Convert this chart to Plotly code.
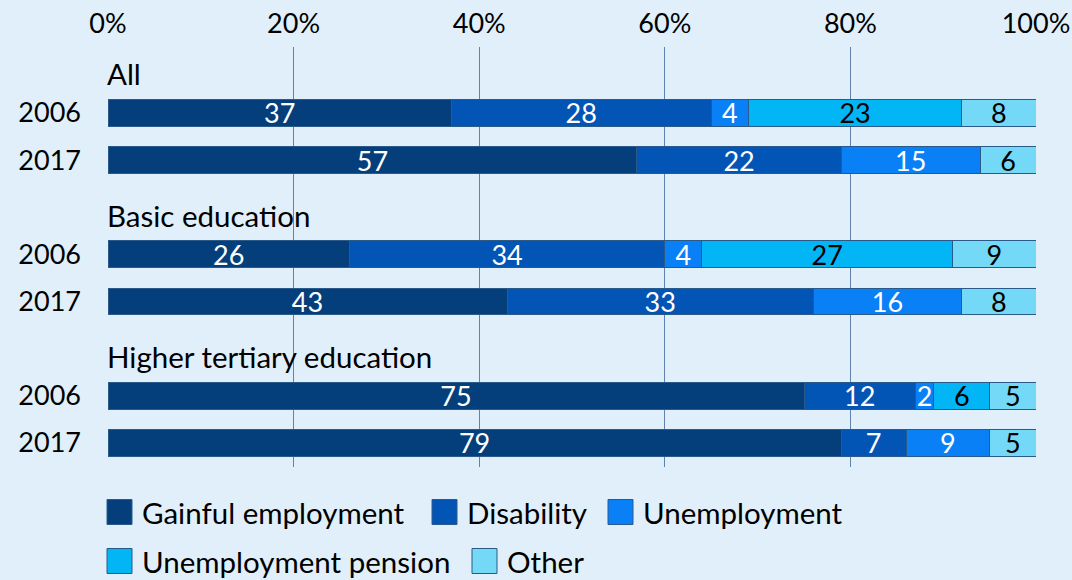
import plotly.graph_objects as go

# Shares of 60-64 year-olds by main activity, per education group and year (%)
groups = ["All", "Basic education", "Higher tertiary education"]
years = ["2006", "2017"]

series_names = ["Gainful employment", "Disability", "Unemployment",
                "Unemployment pension", "Other"]
gainful = [37, 57, 26, 43, 75, 79]
disability = [28, 22, 34, 33, 12, 7]
unemployment = [4, 15, 4, 16, 2, 9]
unemp_pension = [23, None, 27, None, 6, None]
other = [8, 6, 9, 8, 5, 5]

colors = ["#053F7B", "#0355B5", "#0A80F6", "#02B5F5", "#74D9F6"]
text_colors = ["white", "white", "white", "black", "black"]

x_ticks = [0, 20, 40, 60, 80, 100]

FONT = "Lato"
FS_NUM = 27      # numbers: ticks and bar values
FS_TXT = 29.5    # words: headings and legend
BG = "#E1EFFB"
EDGE = "#2A5A8A"
GRID = "#5F82AE"

W, H = 1072, 580
ML, MR, MT, MB = 108, 36, 47, 113
PW, PH = W - ML - MR, H - MT - MB

# vertical slot for each bar: groups separated by one empty slot for the heading
bar_y, tick_text = [], []
for g in range(len(groups)):
    for j, yr in enumerate(years):
        bar_y.append(-(g * 3 + j))
        tick_text.append(yr)

fig = go.Figure()
for name, vals, col, tcol in zip(series_names,
                                 [gainful, disability, unemployment, unemp_pension, other],
                                 colors, text_colors):
    fig.add_trace(go.Bar(
        x=vals, y=bar_y, orientation="h", name=name,
        marker=dict(color=col, line=dict(color=EDGE, width=1)),
        width=0.57,
        text=["" if v is None else str(v) for v in vals],
        textposition="inside", insidetextanchor="middle", textangle=0,
        constraintext="none", cliponaxis=False,
        textfont=dict(family=FONT, size=FS_NUM, color=tcol),
        hoverinfo="skip", showlegend=False,
    ))

# group headings above each pair of bars
for g, label in enumerate(groups):
    fig.add_annotation(x=0, y=-(g * 3) + 0.83, xref="x", yref="y",
                       text=label, showarrow=False, xanchor="left", yanchor="middle",
                       xshift=-3,
                       font=dict(family=FONT, size=FS_TXT, color="black"))

# legend drawn as squares + labels in two rows
def px_x(p):
    return (p - ML) / PW

def px_y(p):
    return (H - MB - p) / PH

legend_slots = [(107, 512), (432, 512), (608, 512), (107, 561), (472, 561)]
SQ = 25
for name, col, (lx, ly) in zip(series_names, colors, legend_slots):
    fig.add_shape(type="rect", xref="paper", yref="paper",
                  x0=px_x(lx), x1=px_x(lx + SQ), y0=px_y(ly - SQ / 2), y1=px_y(ly + SQ / 2),
                  fillcolor=col, line=dict(color=EDGE, width=1))
    fig.add_annotation(x=px_x(lx + SQ + 8), y=px_y(ly), xref="paper", yref="paper",
                       text=name, showarrow=False, xanchor="left", yanchor="middle",
                       font=dict(family=FONT, size=FS_TXT, color="black"))

fig.update_layout(
    barmode="stack",
    width=W, height=H,
    margin=dict(l=ML, r=MR, t=MT, b=MB),
    paper_bgcolor=BG, plot_bgcolor=BG,
    font=dict(family=FONT, size=FS_NUM, color="black"),
    showlegend=False,
    xaxis=dict(side="top", range=[0, 100], tickvals=x_ticks,
               ticktext=[f"{v}%" for v in x_ticks],
               showgrid=True, gridcolor=GRID, gridwidth=1,
               zeroline=False, showline=False, ticks="",
               ticklabelstandoff=8, automargin=False, fixedrange=True),
    yaxis=dict(range=[-7.51, 1.40], tickvals=bar_y, ticktext=tick_text,
               showgrid=False, zeroline=False, showline=False, ticks="",
               ticklabelstandoff=26, automargin=False, fixedrange=True),
)

fig.write_html("out.html")
